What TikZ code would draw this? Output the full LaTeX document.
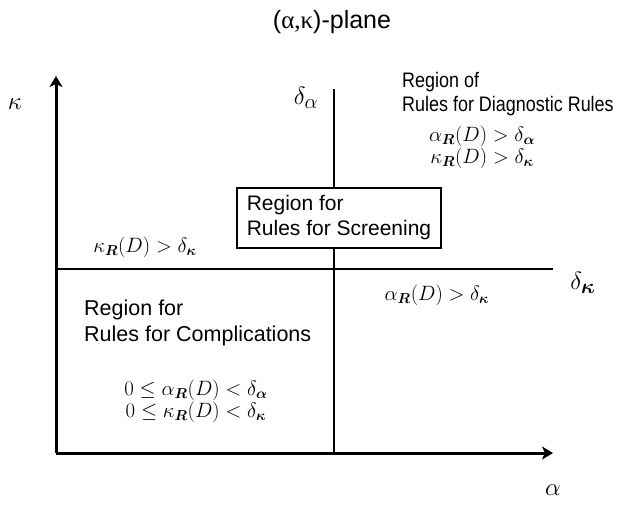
\documentclass[tikz,border=0pt]{standalone}
\usepackage{amsmath,bm}
\usepackage[no-math]{fontspec}
\setmainfont{Liberation Sans}
\newfontfamily\grk{Liberation Serif}
\usetikzlibrary{arrows.meta}
\tikzset{
  axis/.style={line width=3pt,-{Stealth[length=11pt,width=13pt,inset=3pt]}},
  divider/.style={line width=2pt},
  lbl/.style={font=\fontsize{21}{24}\selectfont, align=left, inner sep=0pt, xscale=0.855, transform shape},
  biglbl/.style={font=\fontsize{21.5}{26}\selectfont, align=left, inner sep=0pt},
  mth/.style={font=\fontsize{20}{20}\selectfont, align=center, inner sep=0pt},
  axlbl/.style={font=\fontsize{28}{30}\selectfont, inner sep=0pt},
  regbox/.style={draw, line width=2pt, fill=white, minimum width=204pt,
    minimum height=60pt, align=left, font=\fontsize{21}{25}\selectfont}
}
\newcommand{\bs}[1]{\boldsymbol{#1}}
\begin{document}
\begin{tikzpicture}[x=1pt,y=-1pt]
\useasboundingbox (0,0) rectangle (617,504);
% axes
\coordinate (O) at (56,453);
\coordinate (ytip) at (56,76);
\coordinate (xtip) at (553,453);
\coordinate (vtop) at (334,89);
\coordinate (vbot) at (334,453);
\coordinate (hl) at (56,269);
\coordinate (hr) at (553,269);
\draw[divider] (vtop) -- (vbot);
\draw[divider] (hl) -- (hr);
\draw[axis] (O) -- (ytip);
\draw[axis] (O) -- (xtip);
% title
\node[font=\fontsize{25}{28}\selectfont] (title) at (332,22) {({\grk α,κ})-plane};
% axis labels
\node[axlbl] (klab) at (15,104) {$\kappa$};
\node[axlbl] (alab) at (553,490) {$\alpha$};
\node[axlbl] (dalab) at (306,98) {$\delta_\alpha$};
\node[axlbl] (dklab) at (583,283) {$\delta_{\bs{\kappa}}$};
% box
\node[regbox] (box) at (339,218) {Region for\\Rules for Screening};
% upper right
\node[lbl, anchor=west] (diag) at (402,94) {Region of\\Rules for Diagnostic Rules};
\node[mth] (diagm) at (482,147) {$\alpha_{\bs{R}}(D) > \delta_{\bs{\alpha}}$\\$\kappa_{\bs{R}}(D) > \delta_{\bs{\kappa}}$};
% upper left
\node[mth] (ul) at (145,247) {$\kappa_{\bs{R}}(D) > \delta_{\bs{\kappa}}$};
% lower right
\node[mth] (lr) at (437,295) {$\alpha_{\bs{R}}(D) > \delta_{\bs{\kappa}}$};
% lower left
\node[biglbl, anchor=west] (comp) at (84,323) {Region for\\Rules for Complications};
\node[mth] (compm) at (196,401) {$0 \le \alpha_{\bs{R}}(D) < \delta_{\bs{\alpha}}$\\$0 \le \kappa_{\bs{R}}(D) < \delta_{\bs{\kappa}}$};
\end{tikzpicture}
\end{document}
